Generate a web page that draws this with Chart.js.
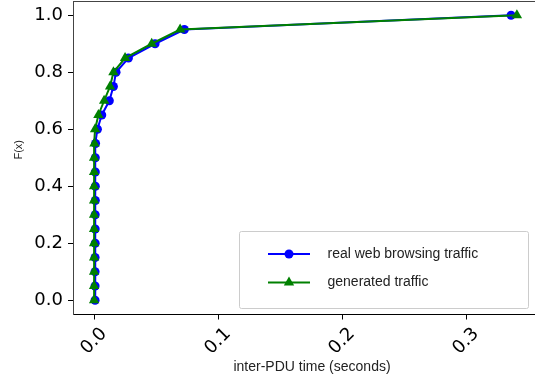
<!DOCTYPE html>
<html>
<head>
<meta charset="utf-8">
<script src="https://cdn.jsdelivr.net/npm/chart.js@4/dist/chart.umd.min.js"></script>
<style>
  html, body { margin: 0; background: #fff; overflow: hidden; }
  #wrap { width: 535px; height: 381px; overflow: hidden; }
</style>
</head>
<body>
<div id="wrap"><canvas id="cdfChart" width="555" height="381"></canvas></div>
<script>
// CDF levels (y) and the inter-PDU times (x)
const cdfLevels = [0, 0.05, 0.1, 0.15, 0.2, 0.25, 0.3, 0.35, 0.4, 0.45, 0.5,
                   0.55, 0.6, 0.65, 0.7, 0.75, 0.8, 0.85, 0.9, 0.95, 1.0];
const realTimes = [0.0008, 0.0008, 0.0008, 0.0008, 0.0009, 0.0009, 0.0009, 0.001, 0.001, 0.001, 0.001,
                   0.0012, 0.0027, 0.0062, 0.0123, 0.0156, 0.0177, 0.0277, 0.0492, 0.0728, 0.3363];
const genTimes  = [0, 0, 0, 0, 0, 0, 0, 0, 0, 0, 0,
                   0.0003, 0.0008, 0.0035, 0.0081, 0.0129, 0.0156, 0.025, 0.0465, 0.0694, 0.341];
const xTicks = [0.0, 0.1, 0.2, 0.3];
const yTicks = [0.0, 0.2, 0.4, 0.6, 0.8, 1.0];
const seriesLabels = ['real web browsing traffic', 'generated traffic'];
const yLabel = 'F(x)';

const toPoints = (xs) => xs.map((x, i) => ({ x: x, y: cdfLevels[i] }));

// Top frame line, y label and the legend box in the lower right
const framePlugin = {
    id: 'frame',
    afterDraw(chart) {
        const { ctx, chartArea } = chart;
        ctx.save();
        ctx.strokeStyle = '#444';
        ctx.lineWidth = 1;
        ctx.beginPath();
        ctx.moveTo(chartArea.left, chartArea.top + 0.5);
        ctx.lineTo(chartArea.right, chartArea.top + 0.5);
        ctx.stroke();

        // y axis label
        ctx.save();
        ctx.translate(chartArea.left - 54, (chartArea.top + chartArea.bottom) / 2 - 8);
        ctx.rotate(-Math.PI / 2);
        ctx.fillStyle = '#222';
        ctx.font = '11px "Liberation Sans", Arial, sans-serif';
        ctx.textAlign = 'center';
        ctx.textBaseline = 'middle';
        ctx.fillText(yLabel, 0, 0);
        ctx.restore();

        // legend
        const w = 289, h = 77;
        const lx = chartArea.right - 23 - w;
        const ly = chartArea.bottom - 6.5 - h;
        ctx.fillStyle = 'rgba(255,255,255,0.8)';
        ctx.strokeStyle = '#cccccc';
        ctx.beginPath();
        ctx.roundRect(lx + 0.5, ly + 0.5, w, h, 2);
        ctx.fill();
        ctx.stroke();

        chart.data.datasets.forEach((ds, i) => {
            const ry = ly + 23 + i * 28.5;
            ctx.strokeStyle = ds.borderColor;
            ctx.lineWidth = 2;
            ctx.beginPath();
            ctx.moveTo(lx + 29, ry);
            ctx.lineTo(lx + 71, ry);
            ctx.stroke();
            ctx.fillStyle = ds.backgroundColor;
            ctx.strokeStyle = ds.borderColor;
            Chart.helpers.drawPoint(ctx, {
                pointStyle: ds.pointStyle,
                radius: ds.pointRadius,
                borderWidth: 0
            }, lx + 50, ry);
            ctx.fillStyle = '#222';
            ctx.font = '14px "Liberation Sans", Arial, sans-serif';
            ctx.textBaseline = 'middle';
            ctx.textAlign = 'left';
            ctx.fillText(ds.label, lx + 88.5, ry);
        });
        ctx.restore();
    }
};

const ctx = document.getElementById('cdfChart').getContext('2d');
const cdfChart = new Chart(ctx, {
    type: 'scatter',
    data: {
        datasets: [{
            label: seriesLabels[0],
            data: toPoints(realTimes),
            borderColor: '#0000ff',
            backgroundColor: '#0000ff',
            borderWidth: 2,
            pointStyle: 'circle',
            pointRadius: 4.5,
            pointBorderWidth: 0,
            showLine: true,
            order: 1
        }, {
            label: seriesLabels[1],
            data: toPoints(genTimes),
            borderColor: '#008000',
            backgroundColor: '#008000',
            borderWidth: 2,
            pointStyle: 'triangle',
            pointRadius: 6,
            pointBorderWidth: 0,
            showLine: true,
            order: 0
        }]
    },
    options: {
        responsive: false,
        animation: false,
        layout: { autoPadding: false, padding: { top: 1, left: 0, right: 4, bottom: 0 } },
        plugins: {
            legend: { display: false },
            tooltip: { enabled: false }
        },
        scales: {
            x: {
                type: 'linear',
                min: -0.017,
                max: 0.3685,
                afterBuildTicks: (s) => { s.ticks = xTicks.map(v => ({ value: v })); },
                afterFit: (s) => { s.height = 66.5; s.paddingLeft = 0; s.paddingRight = 0; },
                border: { display: true, color: '#000', width: 1 },
                grid: { drawOnChartArea: false, drawTicks: true, tickLength: 5, color: '#000' },
                ticks: {
                    minRotation: 45,
                    maxRotation: 45,
                    autoSkip: false,
                    labelOffset: 10,
                    padding: 4,
                    color: '#000',
                    font: { family: '"DejaVu Sans"', size: 18 },
                    callback: (v) => v.toFixed(1)
                },
                title: {
                    display: true,
                    text: 'inter-PDU time (seconds)',
                    color: '#222',
                    font: { family: '"Liberation Sans", Arial, sans-serif', size: 14 },
                    padding: { top: 0, bottom: 5 }
                }
            },
            y: {
                type: 'linear',
                min: -0.05,
                max: 1.05,
                afterBuildTicks: (s) => { s.ticks = yTicks.map(v => ({ value: v })); },
                afterFit: (s) => { s.width = 73; s.paddingTop = 0; s.paddingBottom = 0; },
                border: { display: true, color: '#444', width: 1 },
                grid: { drawOnChartArea: false, drawTicks: true, tickLength: 5, color: '#000' },
                ticks: {
                    padding: 5,
                    color: '#000',
                    font: { family: '"DejaVu Sans"', size: 18 },
                    callback: (v) => v.toFixed(1)
                }
            }
        }
    },
    plugins: [framePlugin]
});
</script>
</body>
</html>
